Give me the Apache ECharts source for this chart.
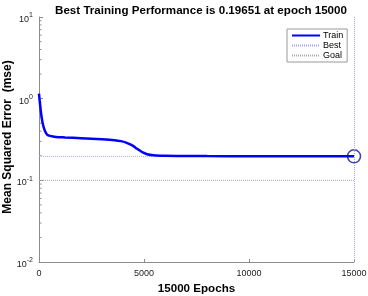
<!DOCTYPE html>
<html>
<head>
<meta charset="utf-8">
<script src="https://cdn.jsdelivr.net/npm/echarts@6/dist/echarts.min.js"></script>
<style>
  html, body { margin: 0; padding: 0; background: #fff; }
  #chart { width: 368px; height: 296px; }
</style>
</head>
<body>
<div id="chart"></div>
<script>
const epochs = [0, 50, 130, 200, 290, 400, 520, 800, 1240, 2000, 3000, 3600, 3900, 4150, 4350, 4500, 4650, 4800, 4970, 5150, 5450, 6000, 6700, 8000, 10000, 12000, 15000]
const mse = [1.15, 0.85, 0.58, 0.47, 0.40, 0.36, 0.35, 0.34, 0.335, 0.328, 0.318, 0.31, 0.302, 0.29, 0.275, 0.262, 0.245, 0.232, 0.218, 0.209, 0.203, 0.2, 0.199, 0.198, 0.1975, 0.197, 0.19651]
const bestEpoch = 15000
const bestPerf = 0.19651
const goal = 0.1
const xTicks = [0, 5000, 10000, 15000]
const yMinorTicks = [0.02, 0.03, 0.04, 0.05, 0.06, 0.07, 0.08, 0.09,
  0.2, 0.3, 0.4, 0.5, 0.6, 0.7, 0.8, 0.9,
  2, 3, 4, 5, 6, 7, 8, 9]

const font = 'Liberation Sans, Arial, sans-serif'
const axisGray = '#8c8c8c'
const bestColor = '#a4a4f2'

const chart = echarts.init(document.getElementById('chart'))

const option = {
  animation: false,
  backgroundColor: '#fff',
  textStyle: { fontFamily: font },
  title: {
    text: 'Best Training Performance is ' + bestPerf + ' at epoch ' + bestEpoch,
    left: 196,
    textAlign: 'center',
    top: 0,
    textStyle: { fontSize: 11.6, fontWeight: 'bold', color: '#000', fontFamily: font }
  },
  legend: {
    orient: 'vertical',
    left: 287,
    top: 29,
    itemWidth: 28,
    itemHeight: 8,
    itemGap: 1,
    padding: [2, 4, 2, 4],
    borderColor: '#999',
    borderWidth: 1,
    backgroundColor: '#fff',
    itemStyle: { opacity: 0 },
    textStyle: { fontSize: 9, color: '#000', fontFamily: font, padding: [0, 0, 0, -2] },
    data: ['Train', 'Best', 'Goal']
  },
  grid: { left: 39, right: 14, top: 17, bottom: 34, outerBoundsMode: 'none', containLabel: false },
  xAxis: {
    type: 'value',
    min: 0,
    max: 15000,
    interval: 5000,
    name: bestEpoch + ' Epochs',
    nameLocation: 'middle',
    nameGap: 21,
    nameMoveOverlap: false,
    nameTextStyle: { fontSize: 11.6, fontWeight: 'bold', color: '#000' },
    axisLine: { lineStyle: { color: axisGray } },
    axisTick: { inside: true, length: 3, lineStyle: { color: axisGray } },
    axisLabel: { fontSize: 9, color: '#222', margin: 7,
      formatter: v => xTicks.indexOf(v) >= 0 ? String(v) : '' },
    splitLine: { show: false }
  },
  yAxis: {
    type: 'log',
    logBase: 10,
    min: 0.01,
    max: 10,
    name: 'Mean Squared Error  (mse)',
    nameLocation: 'middle',
    nameGap: 25,
    nameMoveOverlap: false,
    nameTextStyle: { fontSize: 12, fontWeight: 'bold', color: '#000', padding: [0, 0, 0, 5] },
    axisLine: { show: true, lineStyle: { color: axisGray } },
    axisTick: { inside: true, length: 4, lineStyle: { color: axisGray } },
    axisLabel: {
      margin: 6,
      color: '#222',
      formatter: v => '{b|10}{s|' + Math.round(Math.log10(v)) + '}',
      rich: {
        b: { fontSize: 9, color: '#222', fontFamily: font, padding: [5, 0, 0, 0] },
        s: { fontSize: 7, color: '#222', fontFamily: font, padding: [0, 0, 3, 0] }
      }
    },
    splitLine: { show: false }
  },
  series: [
    {
      type: 'custom',
      silent: true,
      data: yMinorTicks.map(v => [0, v]),
      renderItem: (params, api) => {
        const p = api.coord([0, api.value(1)])
        return {
          type: 'line',
          shape: { x1: p[0], y1: p[1], x2: p[0] + 2.5, y2: p[1] },
          style: { stroke: axisGray, lineWidth: 1 }
        }
      },
      z: 1
    },
    {
      name: 'Goal',
      type: 'line',
      data: [[0, goal], [15000, goal]],
      showSymbol: false,
      symbol: 'none',
      lineStyle: { color: '#a8a8a8', width: 1, type: [1, 1] },
      itemStyle: { color: '#a8a8a8' },
      z: 2
    },
    {
      name: 'Best',
      type: 'line',
      data: [[0, bestPerf], [15000, bestPerf]],
      showSymbol: false,
      symbol: 'none',
      lineStyle: { color: bestColor, width: 1, type: [1, 1] },
      itemStyle: { color: bestColor },
      markLine: {
        silent: true,
        symbol: 'none',
        label: { show: false },
        lineStyle: { color: bestColor, width: 1, type: [1, 1] },
        data: [{ xAxis: bestEpoch }]
      },
      z: 2
    },
    {
      name: 'Train',
      type: 'line',
      data: epochs.map((e, i) => [e, mse[i]]),
      smooth: 0.3,
      showSymbol: false,
      symbol: 'none',
      lineStyle: { color: '#0000ff', width: 2.5 },
      itemStyle: { color: '#0000ff' },
      z: 3
    },
    {
      type: 'scatter',
      data: [[bestEpoch, bestPerf]],
      symbol: 'circle',
      symbolSize: 13,
      itemStyle: { color: 'rgba(0,0,0,0)', borderColor: '#10109a', borderWidth: 1.5 },
      z: 4
    }
  ]
}

chart.setOption(option)
</script>
</body>
</html>
